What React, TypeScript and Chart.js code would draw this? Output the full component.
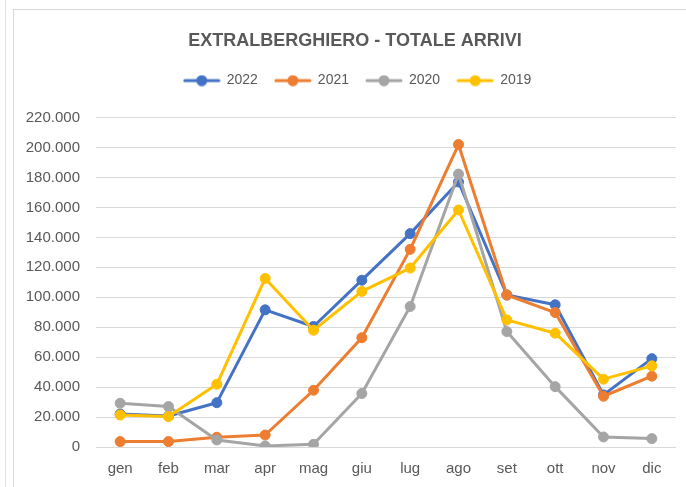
import { useEffect, useRef } from 'react';
import { Chart, registerables } from 'chart.js';

Chart.register(...registerables);

const months = ['gen', 'feb', 'mar', 'apr', 'mag', 'giu', 'lug', 'ago', 'set', 'ott', 'nov', 'dic'];
const series2022 = [22000, 20700, 29600, 91600, 80500, 111400, 142500, 177000, 101500, 95000, 34800, 59000];
const series2021 = [3600, 3600, 6500, 8000, 37900, 73000, 132000, 202000, 101500, 89800, 33900, 47300];
const series2020 = [29200, 27000, 4700, 700, 1800, 35700, 93800, 182300, 77100, 40300, 6700, 5600];
const series2019 = [21400, 20300, 41900, 112600, 78000, 103900, 119500, 158300, 84900, 76000, 45300, 54200];
const seriesLabels = ['2022', '2021', '2020', '2019'];
const seriesColors = ['#4472C4', '#ED7D31', '#A5A5A5', '#FFC000'];
const yMin = 0;
const yMax = 220000;
const yStep = 20000;
const titleText = 'EXTRALBERGHIERO - TOTALE ARRIVI';

const TEXT = '#595959';
const GRID = '#D9D9D9';
const FONT = "'Liberation Sans', Arial, sans-serif";

function formatThousands(v: number): string {
  return String(Math.round(v)).replace(/\B(?=(\d{3})+(?!\d))/g, '.');
}

function makeLegendIcon(color: string): HTMLCanvasElement {
  const c = document.createElement('canvas');
  c.width = 38;
  c.height = 12;
  const ctx = c.getContext('2d')!;
  ctx.strokeStyle = color;
  ctx.lineWidth = 3;
  ctx.lineCap = 'round';
  ctx.beginPath();
  ctx.moveTo(2, 6);
  ctx.lineTo(36, 6);
  ctx.stroke();
  ctx.fillStyle = color;
  ctx.beginPath();
  ctx.arc(19, 6, 5.5, 0, Math.PI * 2);
  ctx.fill();
  return c;
}

export default function App() {
  const ref = useRef<HTMLCanvasElement | null>(null);

  useEffect(() => {
    if (!ref.current) return;
    const allSeries = [series2022, series2021, series2020, series2019];
    const icons = seriesColors.map(makeLegendIcon);

    const headerAdjust = {
      id: 'headerAdjust',
      beforeInit(chart: any) {
        const legend = chart.legend;
        if (!legend) return;
        const origFit = legend.fit;
        legend.fit = function () {
          origFit.call(legend);
          legend.height += 20;
        };
      },
      afterLayout(chart: any) {
        if (chart.titleBlock) chart.titleBlock.left += 10;
        if (chart.legend) chart.legend.left += 15;
      },
    };

    const chart = new Chart(ref.current, {
      type: 'line',
      data: {
        labels: months,
        datasets: allSeries.map((d, i) => ({
          label: seriesLabels[i],
          data: d,
          borderColor: seriesColors[i],
          backgroundColor: seriesColors[i],
          borderWidth: 3,
          borderJoinStyle: 'round' as const,
          borderCapStyle: 'round' as const,
          pointRadius: 5,
          pointBorderWidth: 1,
          pointBackgroundColor: seriesColors[i],
          pointBorderColor: seriesColors[i],
          tension: 0,
          fill: false,
          order: allSeries.length - 1 - i,
        })),
      },
      options: {
        animation: false,
        responsive: false,
        layout: { padding: { left: 10, right: 10, top: 0, bottom: -4 } },
        plugins: {
          title: {
            display: true,
            text: titleText,
            color: TEXT,
            font: { family: FONT, size: 18, weight: 'bold' },
            padding: { top: 20, bottom: 5 },
          },
          legend: {
            display: true,
            position: 'top',
            labels: {
              color: TEXT,
              font: { family: FONT, size: 14 },
              usePointStyle: true,
              pointStyleWidth: 36,
              padding: 17,
              generateLabels: (ch: any) =>
                ch.data.datasets.map((ds: any, i: number) => ({
                  text: ds.label,
                  fillStyle: seriesColors[i],
                  strokeStyle: seriesColors[i],
                  lineWidth: 0,
                  pointStyle: icons[i],
                  fontColor: TEXT,
                  hidden: false,
                  datasetIndex: i,
                })),
            },
          },
          tooltip: { enabled: false },
        },
        scales: {
          x: {
            offset: true,
            grid: { display: false, drawTicks: false },
            border: { display: false },
            ticks: {
              color: TEXT,
              font: { family: FONT, size: 15 },
              padding: 13,
              maxRotation: 0,
            },
          },
          y: {
            min: yMin,
            max: yMax,
            afterFit: (scale: any) => {
              scale.width = 72;
            },
            grid: { color: GRID, lineWidth: 1, drawTicks: false },
            border: { display: false },
            ticks: {
              stepSize: yStep,
              color: TEXT,
              font: { family: FONT, size: 15 },
              padding: 16,
              callback: (v: any) => formatThousands(Number(v)),
            },
          },
        },
      },
      plugins: [headerAdjust],
    } as any);

    return () => chart.destroy();
  }, []);

  return (
    <div style={{ position: 'fixed', left: 0, top: 0, width: 686, height: 487, background: '#fff', overflow: 'hidden' }}>
      <div style={{ position: 'absolute', left: 5, top: 0, width: 1, height: 487, background: '#E3E3E3' }} />
      <div style={{ position: 'absolute', left: 13, top: 9, width: 673, height: 478, borderLeft: '1px solid #D9D9D9', borderTop: '1px solid #D9D9D9', boxSizing: 'border-box' }} />
      <canvas ref={ref} width={672} height={477} style={{ position: 'absolute', left: 14, top: 10, width: 672, height: 477 }} />
    </div>
  );
}
